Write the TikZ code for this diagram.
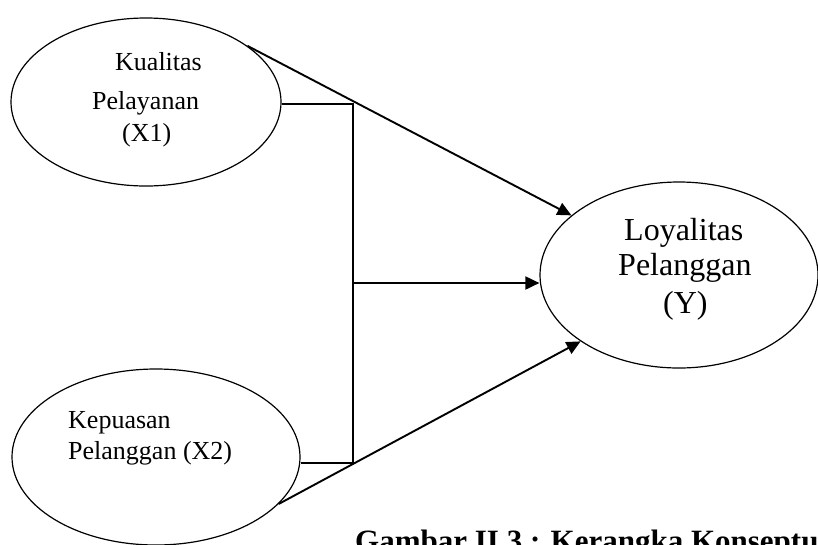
\documentclass[tikz,border=0pt]{standalone}
\usepackage{fontspec}
\setmainfont{Liberation Serif}
\usetikzlibrary{shapes.geometric,arrows.meta}
\tikzset{
  oval/.style={ellipse, draw, line width=1.2pt, inner sep=0pt},
  link/.style={line width=1.3pt},
  arr/.style={line width=1.9pt, -{Triangle[length=14pt,width=13pt]}},
  small/.style={anchor=base west, inner sep=0pt, font=\fontsize{26}{30}\selectfont},
  big/.style={anchor=base west, inner sep=0pt, font=\fontsize{32}{36}\selectfont},
}
\begin{document}
\begin{tikzpicture}[x=1pt,y=-1pt]
\useasboundingbox (0,0) rectangle (818,544);
\clip (0,0) rectangle (818,544);
% ellipses
\node[oval, minimum width=270pt, minimum height=168pt] (x1) at (146,102) {};
\node[oval, minimum width=288pt, minimum height=176pt] (x2) at (156,457) {};
\node[oval, minimum width=278pt, minimum height=186pt] (y) at (679,275) {};
% texts
\node[small] (t1a) at (115,70) {Kualitas};
\node[small] (t1b) at (92,109) {Pelayanan};
\node[small] (t1c) at (122,141) {(X1)};
\node[small] (t2a) at (68,428) {Kepuasan};
\node[small] (t2b) at (68,459) {Pelanggan (X2)};
\node[big] (tya) at (624,240) {Loyalitas};
\node[big] (tyb) at (618,275) {Pelanggan};
\node[big] (tyc) at (663,313) {(Y)};
\node[anchor=base west, inner sep=0pt, font=\fontsize{31}{35}\selectfont\bfseries] (cap) at (355,551) {Gambar II.3 : Kerangka Konseptual};
% junctions
\coordinate (j1) at (353,104);
\coordinate (j2) at (353,463);
\coordinate (j3) at (353,283);
% connectors
\draw[link] (x1.east |- j1) -- (j1) -- (j2);
\draw[link] (x2.east |- j2) -- (j2);
\draw[arr] (x1.29) -- (y.151);
\draw[arr] (j3) -- (y.west |- j3);
\draw[arr] (x2.-21) -- (y.214);
\end{tikzpicture}
\end{document}
